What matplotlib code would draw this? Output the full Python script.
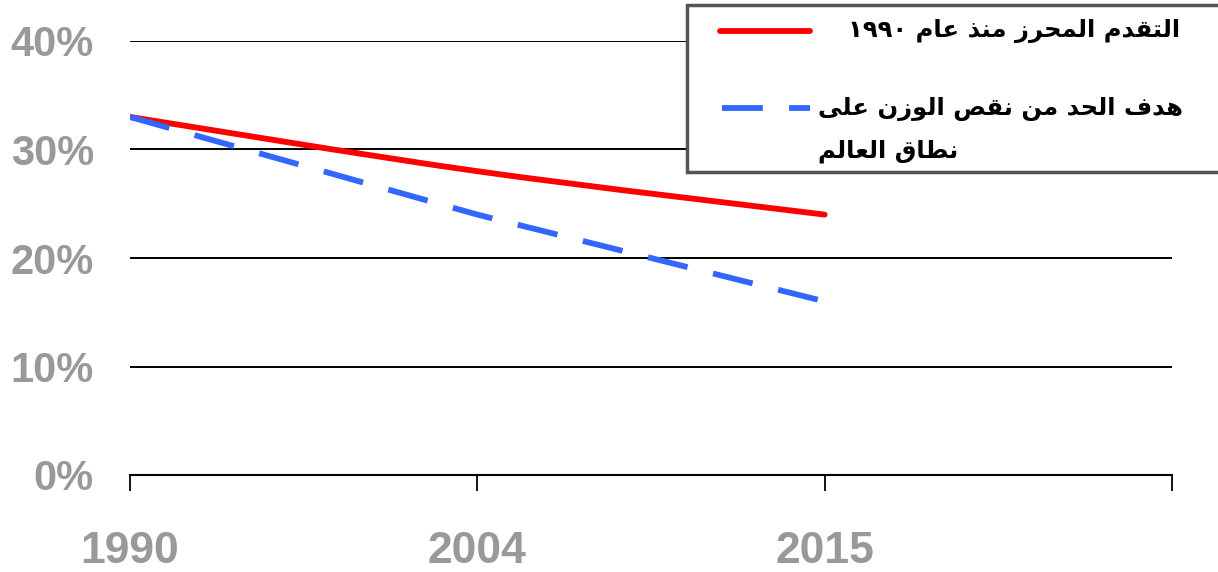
import re
import numpy as np
import matplotlib
matplotlib.use("Agg")
import matplotlib.pyplot as plt
from matplotlib.path import Path
from matplotlib.patches import PathPatch, Rectangle
from matplotlib.lines import Line2D

years = ["1990", "2004", "2015"]
progress = [33, 28, 24]       # red, actual progress since 1990
target = [33, 24, 16]         # blue dashed, global target
yticks = [0, 10, 20, 30, 40]
label_progress = "التقدم المحرز منذ عام ١٩٩٠"
label_target = ["هدف الحد من نقص الوزن على", "نطاق العالم"]

# --- minimal arabic shaping (matplotlib has no complex text layout) ---
FORMS = {
    'ا': ('\uFE8D', '\uFE8E', None, None),
    'د': ('\uFEA9', '\uFEAA', None, None),
    'ذ': ('\uFEAB', '\uFEAC', None, None),
    'ر': ('\uFEAD', '\uFEAE', None, None),
    'ز': ('\uFEAF', '\uFEB0', None, None),
    'و': ('\uFEED', '\uFEEE', None, None),
    'ى': ('\uFEEF', '\uFEF0', None, None),
    'ت': ('\uFE95', '\uFE96', '\uFE97', '\uFE98'),
    'ح': ('\uFEA1', '\uFEA2', '\uFEA3', '\uFEA4'),
    'ص': ('\uFEB9', '\uFEBA', '\uFEBB', '\uFEBC'),
    'ط': ('\uFEC1', '\uFEC2', '\uFEC3', '\uFEC4'),
    'ع': ('\uFEC9', '\uFECA', '\uFECB', '\uFECC'),
    'ف': ('\uFED1', '\uFED2', '\uFED3', '\uFED4'),
    'ق': ('\uFED5', '\uFED6', '\uFED7', '\uFED8'),
    'ل': ('\uFEDD', '\uFEDE', '\uFEDF', '\uFEE0'),
    'م': ('\uFEE1', '\uFEE2', '\uFEE3', '\uFEE4'),
    'ن': ('\uFEE5', '\uFEE6', '\uFEE7', '\uFEE8'),
    'ه': ('\uFEE9', '\uFEEA', '\uFEEB', '\uFEEC'),
}


def dual(c):
    return c in FORMS and FORMS[c][2] is not None


def ar(s):
    out = []
    for i, c in enumerate(s):
        if c not in FORMS:
            out.append(c)
            continue
        prev = i > 0 and dual(s[i - 1])
        nxt = i < len(s) - 1 and s[i + 1] in FORMS and dual(c)
        iso, fin, ini, med = FORMS[c]
        if prev and nxt:
            out.append(med)
        elif prev:
            out.append(fin)
        elif nxt:
            out.append(ini)
        else:
            out.append(iso)
    vis = "".join(out)[::-1]
    # digits stay left-to-right
    return re.sub(r"[\u0660-\u0669]+", lambda m: m.group(0)[::-1], vis)


def smooth_path(xs, ys):
    # bezier through the points, like a spreadsheet "smoothed line"
    pts = np.column_stack([xs, ys]).astype(float)
    verts = [pts[0]]
    codes = [Path.MOVETO]
    n = len(pts)
    for i in range(n - 1):
        p0 = pts[max(i - 1, 0)]
        p1, p2 = pts[i], pts[i + 1]
        p3 = pts[min(i + 2, n - 1)]
        c1 = p1 + (p2 - p0) / 6
        c2 = p2 - (p3 - p1) / 6
        verts += [c1, c2, p2]
        codes += [Path.CURVE4] * 3
    return Path(verts, codes)


plt.rcParams['font.family'] = ['Liberation Sans', 'DejaVu Sans']

W, H = 1218, 572
fig = plt.figure(figsize=(W / 100, H / 100), dpi=100)
ax = fig.add_axes([130 / W, 1 - 475 / H, 1042 / W, 434 / H])

x = np.arange(len(years))
red = "#FF0000"
blue = "#3366FF"
lw = 4.2
dash = (7, 4.5)

ax.add_patch(PathPatch(smooth_path(x, progress), facecolor="none",
                       edgecolor=red, lw=lw, capstyle="round", zorder=3))
ax.plot(x, target, color=blue, lw=lw, dashes=dash, dash_capstyle="butt", zorder=4)

ax.set_xlim(0, 3)
ax.set_ylim(0, 40)
ax.set_xticks(np.arange(len(years) + 1))
ax.set_xticklabels(years + [""])
ax.set_yticks(yticks)
ax.set_yticklabels([f"{v}%" for v in yticks])
for v in yticks[1:]:
    ax.axhline(v, color="black", lw=1.4, zorder=1)

for s in ["top", "right", "left"]:
    ax.spines[s].set_visible(False)
ax.spines["bottom"].set_linewidth(1.5)
ax.tick_params(axis="x", direction="out", length=11.5, width=1.3, pad=29,
               labelsize=32, labelcolor="#999999")
ax.tick_params(axis="y", length=0, pad=26, labelsize=30, labelcolor="#999999")
for t in ax.get_xticklabels() + ax.get_yticklabels():
    t.set_fontweight("bold")

# legend box, drawn by hand so the wrapped label sits like the original
fig.patches.append(Rectangle((687 / W, 1 - 172 / H), 0.5, 167 / H,
                             transform=fig.transFigure, facecolor="white",
                             edgecolor="#555555", lw=2.5, zorder=5))
fig.lines.append(Line2D([720 / W, 810 / W], [1 - 31 / H] * 2, transform=fig.transFigure,
                        color=red, lw=lw, solid_capstyle="round", zorder=6))
fig.lines.append(Line2D([722 / W, 810 / W], [1 - 108 / H] * 2, transform=fig.transFigure,
                        color=blue, lw=lw, dashes=dash, zorder=6))
tkw = dict(family=["DejaVu Sans"], weight="bold", size=17.5, color="black",
           va="center", zorder=7)
fig.text(1180 / W, 1 - 31 / H, ar(label_progress), ha="right", **tkw)
fig.text(1183 / W, 1 - 109 / H, ar(label_target[0]), ha="right", **tkw)
fig.text(818 / W, 1 - 151 / H, ar(label_target[1]), ha="left", **tkw)

fig.savefig("out.png", dpi=100)
